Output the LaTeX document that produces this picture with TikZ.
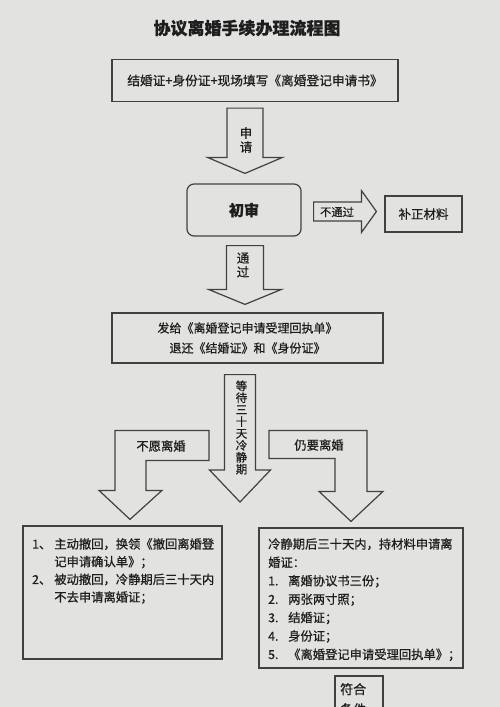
\documentclass[tikz,border=0pt]{standalone}
\usepackage{fontspec}
\newfontfamily\cjk[FakeBold=0.7]{Noto Sans CJK SC}
\usetikzlibrary{calc}
\definecolor{paper}{RGB}{226,226,224}
\definecolor{ink}{RGB}{30,30,30}
\definecolor{edge}{RGB}{65,65,65}

\newcommand{\blockdown}[5]{%
  \draw[blockarrow] let \p1=(#1), \p2=(#2) in
    (\x2-#3,\y1) -- (\x2+#3,\y1) -- (\x2+#3,\y2+#5) -- (\x2+#4,\y2+#5)
    -- (\x2,\y2) -- (\x2-#4,\y2+#5) -- (\x2-#3,\y2+#5) -- cycle;}
\newcommand{\blockright}[5]{%
  \draw[blockarrow] let \p1=(#1), \p2=(#2) in
    (\x1,\y2+#3) -- (\x2-#5,\y2+#3) -- (\x2-#5,\y2+#4) -- (\x2,\y2)
    -- (\x2-#5,\y2-#4) -- (\x2-#5,\y2-#3) -- (\x1,\y2-#3) -- cycle;}

\begin{document}
\begin{tikzpicture}[x=1pt, y=-1pt,
    box/.style={draw=edge, line width=1.2pt, text=ink, inner sep=0pt},
    blockarrow/.style={draw=edge, line width=1.2pt, line join=miter},
    txt/.style={text=ink, inner sep=0pt, font=\cjk\fontsize{12.3}{14}\selectfont}]
                \fill[paper] (0,0) rectangle (500,707);
                \useasboundingbox (0,0) rectangle (500,707);
                \clip (0,0) rectangle (500,707);

                \node[txt, font=\cjk\bfseries\fontsize{17}{17}\selectfont] (title) at (247,28) {协议离婚手续办理流程图};
                \node[box, minimum width=286pt, minimum height=42pt, font=\cjk\fontsize{12.7}{14}\selectfont] (apply) at (255,80.5) {结婚证+身份证+现场填写《离婚登记申请书》};
                \node[box, rounded corners=7pt, minimum width=114pt, minimum height=52pt, font=\cjk\bfseries\fontsize{15}{15}\selectfont] (check) at (244,210) {初审};
                \node[box, minimum width=77pt, minimum height=36pt, font=\cjk\fontsize{12.5}{14}\selectfont] (amend) at (423.5,214) {补正材料};
                \node[box, minimum width=271pt, minimum height=50pt, align=center, font=\cjk\fontsize{12}{20}\selectfont] (receipt) at (247.5,338) {发给《离婚登记申请受理回执单》\\退还《结婚证》和《身份证》};
                \node[box, minimum width=199pt, minimum height=133pt] (withdraw) at (122.5,592.5) {};
                \node[box, minimum width=204pt, minimum height=140pt] (divorce) at (361,598) {};
                \node[box, minimum width=48pt, minimum height=60pt] (qualify) at (359,706) {};

                \coordinate (waittip) at (240,502);
                \coordinate (quittip) at ($(withdraw.north)+(7.5,-6)$);
                \coordinate (staytip) at ($(divorce.north)+(-10,-6)$);

                \blockdown{$(apply.south)+(0,6)$}{$(check.north)+(1,-10)$}{18pt}{37.5pt}{16pt}
                \blockdown{$(check.south)+(0,9)$}{$(receipt.north)+(-2.5,-8)$}{18.5pt}{36.5pt}{15pt}
                \blockdown{$(receipt.south)+(0,11)$}{waittip}{15.5pt}{30.5pt}{32pt}
                \blockright{$(check.east)+(12,0)$}{$(amend.west)+(-8,-2.5)$}{9.5pt}{21pt}{15pt}
                \draw[blockarrow] (quittip) -- ++(32,-29) -- ++(-16,0) -- ++(0,-30) -- ++(63,0) -- ++(0,-30) -- ++(-94,0) -- ++(0,60) -- ++(-16,0) -- cycle;
                \draw[blockarrow] (staytip) -- ++(32,-30) -- ++(-16,0) -- ++(0,-61) -- ++(-98,0) -- ++(0,28) -- ++(66,0) -- ++(0,33) -- ++(-16,0) -- cycle;

                \node[txt, align=center, font=\cjk\fontsize{12.5}{14}\selectfont] (apply label) at (246,140) {申\\请};
                \node[txt, align=center, font=\cjk\fontsize{12.5}{14}\selectfont] (pass label) at (243,265) {通\\过};
                \node[txt, align=center, font=\cjk\fontsize{11.5}{11.9}\selectfont] (wait label) at (241.5,427.5) {等\\待\\三\\十\\天\\冷\\静\\期};
                \node[txt, font=\cjk\fontsize{11.3}{13}\selectfont] (fail label) at (337,212) {不通过};
                \node[txt] (quit label) at (161,446) {不愿离婚};
                \node[txt] (stay label) at (319,445) {仍要离婚};

                \node[txt, anchor=north west, font=\cjk\fontsize{12.3}{17.7}\selectfont] (withdraw text) at (32,536) {\begin{tabular}{@{}l@{\hspace{3pt}}l@{}}
                    1、 & 主动撤回，换领《撤回离婚登\\
                        & 记申请确认单》；\\
                    2、 & 被动撤回，冷静期后三十天内\\
                        & 不去申请离婚证；
                  \end{tabular}};
                \node[txt, anchor=north west, align=left, font=\cjk\fontsize{12.3}{18.4}\selectfont] (divorce text) at (268,538) {冷静期后三十天内，持材料申请离\\
                  婚证：\\
                  \makebox[20pt][l]{1.}离婚协议书三份；\\
                  \makebox[20pt][l]{2.}两张两寸照；\\
                  \makebox[20pt][l]{3.}结婚证；\\
                  \makebox[20pt][l]{4.}身份证；\\
                  \makebox[20pt][l]{5.}《离婚登记申请受理回执单》；};
                \node[txt, anchor=north west, align=left, font=\cjk\fontsize{13}{20}\selectfont] (qualify text) at (340,683) {符合\\条件};
            \end{tikzpicture}
\end{document}
